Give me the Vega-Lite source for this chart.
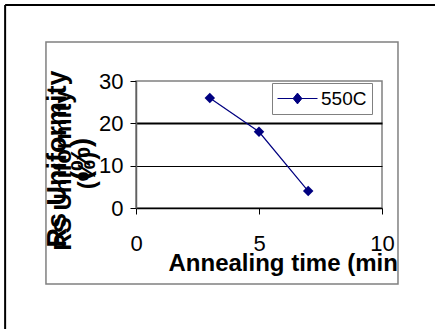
{
  "$schema": "https://vega.github.io/schema/vega-lite/v6.json",
  "width": 246,
  "height": 127,
  "autosize": {"type": "none"},
  "padding": {"left": 136, "top": 81, "right": 53, "bottom": 121},
  "background": "white",
  "title": {
    "text": ["Rs Uniformity", "(%)"],
    "orient": "left",
    "anchor": "middle",
    "fontSize": 27,
    "fontWeight": "bold",
    "font": "Liberation Sans",
    "color": "black",
    "lineHeight": 24,
    "offset": -92,
    "dx": -14.5
  },
  "config": {
    "view": {"stroke": "#808080", "strokeWidth": 1.5},
    "font": "Liberation Sans",
    "axis": {
      "labelFont": "Liberation Sans",
      "labelFontSize": 22,
      "labelColor": "black",
      "titleFont": "Liberation Sans",
      "titleFontWeight": "bold",
      "titleFontSize": 24,
      "titleColor": "black",
      "tickColor": "black",
      "tickSize": 6,
      "tickWidth": 1
    }
  },
  "layer": [
    {
      "data": {"values": [{"frame": "chart area"}]},
      "mark": {"type": "rect", "filled": false, "stroke": "#808080", "strokeWidth": 1.5},
      "encoding": {
        "x": {"datum": -3.66, "type": "quantitative", "scale": {"domain": [0, 10]}},
        "x2": {"datum": 10.65},
        "y": {"datum": 39.2, "type": "quantitative", "scale": {"domain": [0, 30]}},
        "y2": {"datum": -17.95}
      }
    },
    {
      "data": {"values": [{"frame": "outer left"}]},
      "mark": {"type": "rule", "stroke": "black", "strokeWidth": 2},
      "encoding": {
        "x": {"datum": -5.32, "type": "quantitative", "scale": {"domain": [0, 10]}},
        "y": {"datum": 47.95, "type": "quantitative", "scale": {"domain": [0, 30]}},
        "y2": {"datum": -30}
      }
    },
    {
      "data": {"values": [{"frame": "outer top"}]},
      "mark": {"type": "rule", "stroke": "black", "strokeWidth": 2},
      "encoding": {
        "x": {"datum": -5.32, "type": "quantitative", "scale": {"domain": [0, 10]}},
        "x2": {"datum": 13},
        "y": {"datum": 47.95, "type": "quantitative", "scale": {"domain": [0, 30]}}
      }
    },
    {
      "data": {"values": [
        {"time": 3, "rs": 26, "series": "550C"},
        {"time": 5, "rs": 18, "series": "550C"},
        {"time": 7, "rs": 4, "series": "550C"}
      ]},
      "mark": {
        "type": "line",
        "strokeWidth": 1.2,
        "point": {"shape": "diamond", "size": 110, "filled": true, "color": "#000080"}
      },
      "encoding": {
        "x": {
          "field": "time",
          "type": "quantitative",
          "scale": {"domain": [0, 10]},
          "axis": {
            "values": [0, 5, 10],
            "labelFlush": false,
            "labelPadding": 19,
            "grid": false,
            "domainColor": "black",
            "domainWidth": 1.5,
            "title": "Annealing time (min",
            "titleX": 32,
            "titleY": 62,
            "titleAlign": "left",
            "titleAnchor": "start",
            "titleBaseline": "alphabetic"
          }
        },
        "y": {
          "field": "rs",
          "type": "quantitative",
          "scale": {"domain": [0, 30]},
          "axis": {
            "values": [0, 10, 20, 30],
            "labelPadding": 7,
            "domainColor": "#606060",
            "domainWidth": 1.5,
            "grid": true,
            "gridColor": "black",
            "gridWidth": {"condition": {"test": "datum.value === 20", "value": 2}, "value": 1},
            "gridOpacity": {"condition": {"test": "datum.value === 30 || datum.value === 0", "value": 0}, "value": 1},
            "title": ["RS Uniformity", "(%)"],
            "titleAngle": -90,
            "titleX": -85,
            "titleY": 89,
            "titleAlign": "center",
            "titleBaseline": "top",
            "titleLineHeight": 24
          }
        },
        "color": {
          "field": "series",
          "type": "nominal",
          "scale": {"range": ["#000080"]},
          "legend": {
            "orient": "none",
            "legendX": 136,
            "legendY": 2,
            "title": null,
            "symbolType": "M-2,0H2M-0.44,0L0,-0.54L0.44,0L0,0.54Z",
            "symbolSize": 400,
            "symbolOffset": 10,
            "symbolStrokeColor": "#000080",
            "symbolFillColor": "#000080",
            "symbolStrokeWidth": 1,
            "labelFont": "Liberation Sans",
            "labelFontSize": 19,
            "labelColor": "black",
            "labelOffset": 13,
            "padding": 5,
            "fillColor": "white",
            "strokeColor": "#808080"
          }
        }
      }
    }
  ]
}
